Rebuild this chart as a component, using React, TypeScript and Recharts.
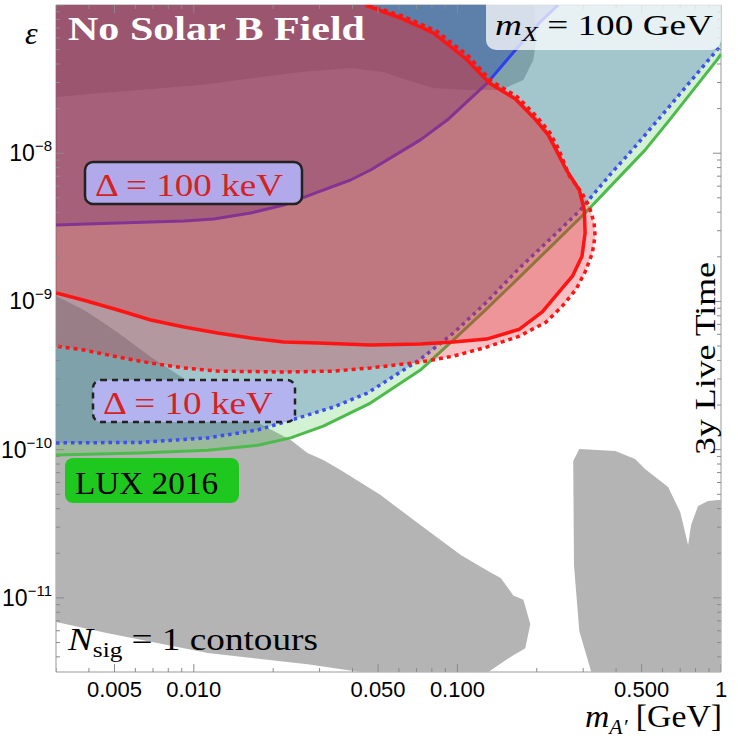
import React from "react";
import { ComposedChart, ReferenceLine, Scatter, XAxis, YAxis } from "recharts";

const X_MIN = 0.003;
const X_MAX = 1;
const Y_MIN = 3.162e-12;
const Y_MAX = 1e-7;

type Pt = [number, number]; // [m_A' in GeV, epsilon]

// LUX 2016 limit
const lux2016: Pt[] = [
    [0.003, 9.2e-11], [0.0063, 9.5e-11], [0.0113, 9.9e-11], [0.0175, 1.07e-10],
    [0.0233, 1.2e-10], [0.031, 1.44e-10], [0.0393, 1.77e-10], [0.0468, 2.06e-10],
    [0.0724, 3.44e-10], [0.0966, 5.5e-10], [0.129, 8.9e-10], [0.172, 1.46e-9],
    [0.229, 2.4e-9], [0.305, 3.95e-9], [0.411, 6.9e-9], [0.515, 1.05e-8],
    [0.647, 1.73e-8], [0.966, 4.26e-8], [1, 4.67e-8],
]

// blue contours, Δ = 10 keV (dotted) and Δ = 100 keV (solid)
const blue10keV: Pt[] = [
    [0.003, 1.11e-10], [0.0063, 1.12e-10], [0.0113, 1.2e-10], [0.0175, 1.36e-10],
    [0.0233, 1.58e-10], [0.0339, 1.94e-10], [0.0456, 2.41e-10], [0.0724, 4.08e-10],
    [0.0966, 6.12e-10], [0.129, 9.9e-10], [0.172, 1.68e-9], [0.229, 2.72e-9],
    [0.29, 4.07e-9], [0.387, 7.46e-9], [0.46, 1.05e-8], [0.593, 1.78e-8],
    [0.966, 4.97e-8], [1, 5.46e-8],
]
const blue100keV: Pt[] = [
    [0.003, 3.28e-9], [0.00515, 3.38e-9], [0.00917, 3.49e-9], [0.0119, 3.6e-9],
    [0.0164, 3.95e-9], [0.0219, 4.47e-9], [0.0295, 5.47e-9], [0.0393, 6.6e-9],
    [0.0468, 7.7e-9], [0.0608, 1.02e-8], [0.0724, 1.23e-8], [0.0917, 1.68e-8],
    [0.13, 2.98e-8], [0.166, 4.97e-8], [0.206, 7.68e-8], [0.241, 1e-7],
]

// red contours, Δ = 100 keV (solid) and Δ = 10 keV (dotted)
const red100keV: Pt[] = [
    [0.0448, 1e-7], [0.0608, 8.17e-8], [0.0811, 6.47e-8], [0.108, 4.32e-8],
    [0.132, 2.98e-8], [0.166, 2.32e-8], [0.197, 1.7e-8], [0.221, 1.33e-8],
    [0.237, 1.05e-8], [0.259, 7.7e-9], [0.29, 5.65e-9], [0.303, 4.14e-9],
    [0.305, 2.9e-9], [0.297, 2.02e-9], [0.273, 1.48e-9], [0.243, 1.16e-9],
    [0.21, 8.5e-10], [0.172, 6.5e-10], [0.129, 5.57e-10], [0.0966, 5.32e-10],
    [0.0724, 5.16e-10], [0.0468, 5.08e-10], [0.0295, 5.24e-10], [0.0219, 5.32e-10],
    [0.0164, 5.66e-10], [0.0123, 6.12e-10], [0.00917, 6.72e-10], [0.00687, 7.49e-10],
    [0.00515, 8.75e-10], [0.00383, 1.02e-9], [0.003, 1.14e-9],
]
const red10keV: Pt[] = [
    [0.046, 1e-7], [0.0619, 8.43e-8], [0.0833, 6.68e-8], [0.11, 4.53e-8],
    [0.1345, 3.07e-8], [0.169, 2.4e-8], [0.201, 1.75e-8], [0.225, 1.37e-8],
    [0.243, 1.05e-8], [0.266, 7.02e-9], [0.297, 5.39e-9], [0.316, 4.4e-9],
    [0.33, 3.38e-9], [0.333, 2.76e-9], [0.325, 2.12e-9], [0.305, 1.58e-9],
    [0.282, 1.21e-9], [0.25, 9.3e-10], [0.217, 7.26e-10], [0.172, 5.84e-10],
    [0.129, 4.92e-10], [0.0966, 4.28e-10], [0.0724, 3.9e-10], [0.0468, 3.56e-10],
    [0.0339, 3.39e-10], [0.0219, 3.34e-10], [0.0123, 3.39e-10], [0.00917, 3.56e-10],
    [0.00687, 3.84e-10], [0.00515, 4.22e-10], [0.00383, 4.7e-10], [0.003, 5.0e-10],
]

// excluded regions (gray)
const grayLow: Pt[] = [
    [0.003, 1.09e-9], [0.00383, 8.75e-10], [0.00456, 7.15e-10], [0.00543, 5.75e-10],
    [0.00687, 4.22e-10], [0.00818, 3.44e-10], [0.00975, 2.81e-10], [0.0135, 2.06e-10],
    [0.0179, 1.49e-10], [0.0233, 1.16e-10], [0.027, 9.5e-11], [0.031, 8.5e-11],
    [0.036, 7.28e-11], [0.0511, 4.94e-11], [0.0724, 3.1e-11], [0.103, 1.95e-11],
    [0.133, 1.49e-11], [0.146, 1.36e-11], [0.163, 1.04e-11], [0.178, 9.7e-12],
    [0.189, 6.65e-12], [0.181, 4.58e-12], [0.159, 3.99e-12], [0.131, 3.162e-12],
    [0.0429, 3.162e-12], [0.027, 3.57e-12], [0.0113, 4.24e-12], [0.00472, 5.78e-12],
    [0.003, 6.87e-12],
]
const grayRight: Pt[] = [
    [0.275, 8.38e-11], [0.29, 1.01e-10], [0.397, 9.8e-11], [0.472, 8.64e-11],
    [0.515, 7.4e-11], [0.63, 5.6e-11], [0.7, 3.79e-11], [0.75, 2.27e-11],
    [0.77, 3.1e-11], [0.818, 4.16e-11], [0.893, 4.5e-11], [0.974, 4.57e-11],
    [1, 4.57e-11], [1, 3.162e-12], [0.322, 3.162e-12], [0.29, 5.97e-12],
    [0.277, 1.66e-11],
]
const grayTop: Pt[] = [
    [0.003, 1e-7], [0.003, 2.4e-8], [0.00444, 2.55e-8], [0.0106, 2.88e-8],
    [0.0254, 3.53e-8], [0.0393, 3.76e-8], [0.0525, 3.53e-8], [0.0608, 3.22e-8],
    [0.0811, 2.75e-8], [0.109, 2.67e-8], [0.146, 2.67e-8], [0.178, 3.12e-8],
    [0.194, 4.26e-8], [0.199, 5.8e-8], [0.196, 1e-7],
]

const xLabelTicks = [0.005, 0.01, 0.05, 0.1, 0.5, 1]
const xMinorTicks = [
    0.003, 0.004, 0.006, 0.007, 0.008, 0.009, 0.02, 0.03, 0.04, 0.06, 0.07, 0.08, 0.09,
    0.2, 0.3, 0.4, 0.6, 0.7, 0.8, 0.9,
]
const yLabelTicks = [1e-11, 1e-10, 1e-9, 1e-8]
const yMajorTicks = [1e-11, 1e-10, 1e-9, 1e-8, 1e-7]
const yMinorTicks = [
    4e-12, 5e-12, 6e-12, 7e-12, 8e-12, 9e-12,
    2e-11, 3e-11, 4e-11, 5e-11, 6e-11, 7e-11, 8e-11, 9e-11,
    2e-10, 3e-10, 4e-10, 5e-10, 6e-10, 7e-10, 8e-10, 9e-10,
    2e-9, 3e-9, 4e-9, 5e-9, 6e-9, 7e-9, 8e-9, 9e-9,
    2e-8, 3e-8, 4e-8, 5e-8, 6e-8, 7e-8, 8e-8, 9e-8,
]

const GRAY = "#b4b4b4"
const SERIF = "'Liberation Serif', 'Times New Roman', serif"
const SANS = "'Liberation Sans', Arial, sans-serif"

const pts = (list: Pt[]) => list.map(([x, y]) => ({ x, y }))
const topCorners: Pt[] = [[X_MAX, Y_MAX], [X_MIN, Y_MAX]]
const topLeft: Pt[] = [[X_MIN, Y_MAX]]

const toPath = (points: { x: number; y: number }[], close: boolean) =>
    points.map((p, i) => `${i ? "L" : "M"}${p.x.toFixed(1)},${p.y.toFixed(1)}`).join("") +
    (close ? "Z" : "")

// scatter "line" renderers: filled region / open curve through the scaled points
const region = (fill: string) => (p: any) => (
    <path d={toPath(p.points, true)} fill={fill} stroke="none" />
)
const curve = (stroke: string, width: number, dash?: string) => (p: any) => (
    <path
        d={toPath(p.points, false)}
        fill="none"
        stroke={stroke}
        strokeWidth={width}
        strokeDasharray={dash}
        strokeLinejoin="round"
    />
)
const noDot = () => <g />
const tickMark = (dx: number, dy: number) => (p: any) => (
    <line x1={p.cx} y1={p.cy} x2={p.cx + dx} y2={p.cy + dy} stroke="#8a8a8a" strokeWidth={1} />
)

const EpsTick = (props: any) => {
    const { x, y, payload } = props
    const exp = Math.round(Math.log10(payload.value))
    return (
        <text x={x} y={y} textAnchor="end" fontFamily={SANS} fill="#000">
            <tspan fontSize={23} dy={8}>10</tspan>
            <tspan fontSize={15} dy={-10}>{`\u2212${-exp}`}</tspan>
        </text>
    )
}

const Labels = () => (
    <svg
        width={738}
        height={746}
        style={{ position: "absolute", left: 0, top: 0, pointerEvents: "none" }}
        fontFamily={SERIF}
    >
        <text x={25} y={44} fontSize={32} fontStyle="italic">ε</text>
        <text x={68} y={40} fontSize={34} fontWeight="bold" fill="#fff" textLength={297} lengthAdjust="spacingAndGlyphs">
            No Solar B Field
        </text>

        <rect x={486} y={-12} width={235} height={62} rx={10} fill="#fff" fillOpacity={0.74} />
        <text x={495} y={35} fontSize={30} textLength={218} lengthAdjust="spacingAndGlyphs">
            <tspan fontStyle="italic">m</tspan>
            <tspan fontStyle="italic" fontSize={21} dy={6}>X</tspan>
            <tspan dy={-6}> = 100 GeV</tspan>
        </text>

        <rect x={85} y={162} width={217} height={42} rx={8} fill="#b1a9ea" stroke="#222" strokeWidth={2.5} />
        <text x={95} y={196} fontSize={31} fill="#d42222" textLength={188} lengthAdjust="spacingAndGlyphs">
            Δ = 100 keV
        </text>

        <rect x={93} y={380} width={202} height={42} rx={8} fill="#b3b3f0" stroke="#222" strokeWidth={2.5} strokeDasharray="6 5" />
        <text x={103} y={414} fontSize={31} fill="#d42222" textLength={170} lengthAdjust="spacingAndGlyphs">
            Δ = 10 keV
        </text>

        <rect x={65} y={458} width={174} height={45} rx={8} fill="#1ec81e" />
        <text x={75} y={494} fontSize={32} textLength={143} lengthAdjust="spacingAndGlyphs">
            LUX 2016
        </text>

        <text x={68} y={650} fontSize={31} textLength={250} lengthAdjust="spacingAndGlyphs">
            <tspan fontStyle="italic">N</tspan>
            <tspan fontSize={21} dy={7}>sig</tspan>
            <tspan dy={-7}> = 1 contours</tspan>
        </text>

        <text x={715} y={455} fontSize={30} textLength={193} lengthAdjust="spacingAndGlyphs" transform="rotate(-90 715 455)">
            3y Live Time
        </text>

        <text x={585} y={727} fontSize={31} textLength={137} lengthAdjust="spacingAndGlyphs">
            <tspan fontStyle="italic">m</tspan>
            <tspan fontStyle="italic" fontSize={20} dy={7}>A′</tspan>
            <tspan dy={-7}> [GeV]</tspan>
        </text>
    </svg>
)

export default function App() {
    return (
        <div style={{ position: "absolute", left: 0, top: 0, width: 738, height: 746, background: "#fff" }}>
            <ComposedChart width={738} height={746} margin={{ top: 5, right: 17, bottom: 0, left: 0 }}>
                <XAxis
                    dataKey="x"
                    type="number"
                    scale="log"
                    domain={[X_MIN, X_MAX]}
                    allowDataOverflow
                    ticks={xLabelTicks}
                    interval={0}
                    height={74}
                    tickSize={0}
                    tickMargin={9}
                    tickLine={false}
                    axisLine={{ stroke: "#999" }}
                    tick={{ fontSize: 22, fill: "#000", fontFamily: SANS }}
                    tickFormatter={(v: number) => (v === 1 ? "1" : v.toFixed(3))}
                />
                <YAxis
                    dataKey="y"
                    type="number"
                    scale="log"
                    domain={[Y_MIN, Y_MAX]}
                    allowDataOverflow
                    ticks={yLabelTicks}
                    interval={0}
                    width={56}
                    tickSize={0}
                    tickMargin={4}
                    tickLine={false}
                    axisLine={{ stroke: "#999" }}
                    tick={<EpsTick />}
                />

                <Scatter data={pts(grayLow)} line={region(GRAY)} shape={noDot} isAnimationActive={false} />
                <Scatter data={pts(grayRight)} line={region(GRAY)} shape={noDot} isAnimationActive={false} />
                <Scatter data={pts(grayTop)} line={region(GRAY)} shape={noDot} isAnimationActive={false} />

                <Scatter data={pts([...lux2016, ...topCorners])} line={region("rgba(80,200,80,0.25)")} shape={noDot} isAnimationActive={false} />
                <Scatter data={pts(lux2016)} line={curve("#4cbb4c", 3)} shape={noDot} isAnimationActive={false} />

                <Scatter data={pts([...blue10keV, ...topCorners])} line={region("rgba(74,118,194,0.35)")} shape={noDot} isAnimationActive={false} />
                <Scatter data={pts(blue10keV)} line={curve("#3d4ff0", 3.5, "3.5 4")} shape={noDot} isAnimationActive={false} />

                <Scatter data={pts([...blue100keV, ...topLeft])} line={region("rgba(40,80,170,0.4)")} shape={noDot} isAnimationActive={false} />
                <Scatter data={pts(blue100keV)} line={curve("#2e3ff0", 3)} shape={noDot} isAnimationActive={false} />

                <Scatter data={pts([...red10keV, ...topLeft])} line={region("rgba(220,40,50,0.29)")} shape={noDot} isAnimationActive={false} />
                <Scatter data={pts([...red100keV, ...topLeft])} line={region("rgba(220,40,50,0.29)")} shape={noDot} isAnimationActive={false} />
                <Scatter data={pts(red10keV)} line={curve("#ff1414", 3.5, "4 4")} shape={noDot} isAnimationActive={false} />
                <Scatter data={pts(red100keV)} line={curve("#ff1414", 3.5)} shape={noDot} isAnimationActive={false} />

                {/* frame ticks on all four sides, pointing inward */}
                <Scatter data={xLabelTicks.map((x) => ({ x, y: Y_MIN }))} shape={tickMark(0, -8)} isAnimationActive={false} />
                <Scatter data={xMinorTicks.map((x) => ({ x, y: Y_MIN }))} shape={tickMark(0, -4)} isAnimationActive={false} />
                <Scatter data={xLabelTicks.map((x) => ({ x, y: Y_MAX }))} shape={tickMark(0, 8)} isAnimationActive={false} />
                <Scatter data={xMinorTicks.map((x) => ({ x, y: Y_MAX }))} shape={tickMark(0, 4)} isAnimationActive={false} />
                <Scatter data={yMajorTicks.map((y) => ({ x: X_MIN, y }))} shape={tickMark(8, 0)} isAnimationActive={false} />
                <Scatter data={yMinorTicks.map((y) => ({ x: X_MIN, y }))} shape={tickMark(4, 0)} isAnimationActive={false} />
                <Scatter data={yMajorTicks.map((y) => ({ x: X_MAX, y }))} shape={tickMark(-8, 0)} isAnimationActive={false} />
                <Scatter data={yMinorTicks.map((y) => ({ x: X_MAX, y }))} shape={tickMark(-4, 0)} isAnimationActive={false} />

                <ReferenceLine y={Y_MAX} stroke="#999" ifOverflow="visible" />
                <ReferenceLine x={X_MAX} stroke="#999" ifOverflow="visible" />
            </ComposedChart>
            <Labels />
        </div>
    )
}
